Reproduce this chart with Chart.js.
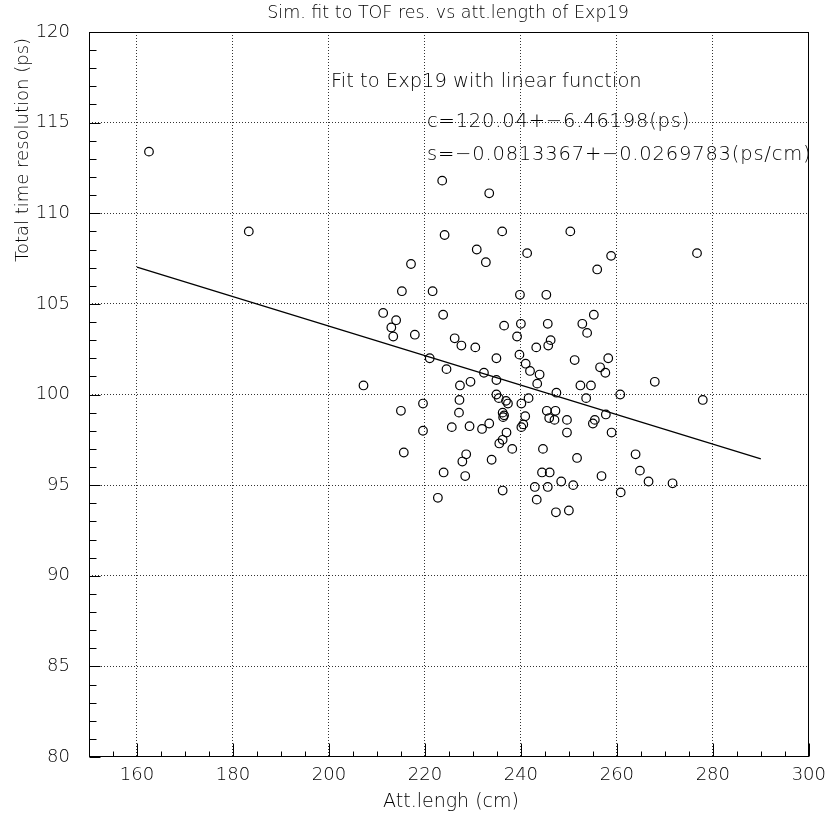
<!DOCTYPE html>
<html>
<head>
<meta charset="utf-8">
<script src="https://cdn.jsdelivr.net/npm/chart.js"></script>
<style>
  html, body { margin: 0; padding: 0; background: #fff; }
</style>
</head>
<body>
<canvas id="chart" width="834" height="817"></canvas>
<script>
// measured points (att. length in cm, time resolution in ps)
const attLength = [162.5, 183.3, 207.2,
  223.6, 233.4, 224.1, 236.1, 230.8, 232.7, 241.3, 217.1, 215.2, 221.6, 239.8, 211.3, 214.0, 213.0, 213.4, 217.9, 223.8, 236.5, 240.0, 239.2, 226.2,
  227.6, 230.5, 221.0, 224.5, 234.9, 239.7, 241.0, 241.9, 232.3, 234.9, 229.5, 227.3, 234.9, 235.4, 236.9, 237.3, 240.1, 241.6, 227.2, 219.6, 215.0,
  227.1, 236.2, 236.5, 236.3, 240.9, 240.5, 240.1, 219.6, 225.6, 229.3, 231.9, 233.4, 237.0, 236.2, 235.5, 238.2, 215.6, 228.6, 227.8, 233.9, 223.9,
  228.4, 236.2, 222.7,
  250.3, 258.8, 255.9, 276.7, 245.3, 255.2, 245.6, 252.8, 253.8, 246.2,
  245.7, 243.2, 251.2, 256.5, 258.2, 257.6, 243.9, 243.4, 247.4, 252.4, 254.6, 253.6, 260.7, 267.9, 277.9, 245.4, 247.2, 245.9, 247.0, 249.6,
  257.7, 255.4, 255.0, 249.6, 258.9, 244.6, 251.7, 263.9, 264.8, 266.6, 271.6, 256.8, 244.4, 246.0, 248.4, 250.9, 242.9, 245.6, 260.8, 243.3,
  247.3, 250.0];
const timeRes = [113.4, 109.0, 100.5,
  111.8, 111.1, 108.8, 109.0, 108.0, 107.3, 107.8, 107.2, 105.7, 105.7, 105.5, 104.5, 104.1, 103.7, 103.2, 103.3, 104.4, 103.8, 103.9, 103.2, 103.1,
  102.7, 102.6, 102.0, 101.4, 102.0, 102.2, 101.7, 101.3, 101.2, 100.8, 100.7, 100.5, 100.0, 99.8, 99.65, 99.5, 99.5, 99.8, 99.7, 99.5, 99.1,
  99.0, 99.0, 98.85, 98.75, 98.8, 98.35, 98.2, 98.0, 98.2, 98.25, 98.1, 98.4, 97.9, 97.5, 97.3, 97.0, 96.8, 96.7, 96.3, 96.4, 95.7,
  95.5, 94.7, 94.3,
  109.0, 107.65, 106.9, 107.8, 105.5, 104.4, 103.9, 103.9, 103.4, 103.0,
  102.7, 102.6, 101.9, 101.5, 102.0, 101.2, 101.1, 100.6, 100.1, 100.5, 100.5, 99.8, 100.0, 100.7, 99.7, 99.1, 99.1, 98.7, 98.6, 98.6,
  98.9, 98.6, 98.4, 97.9, 97.9, 97.0, 96.5, 96.7, 95.8, 95.2, 95.1, 95.5, 95.7, 95.7, 95.2, 95.0, 94.9, 94.9, 94.6, 94.2,
  93.5, 93.6];

// linear fit line end points
const fitX = [160, 290];
const fitY = [107.03, 96.45];

const xTickLabels = [160, 180, 200, 220, 240, 260, 280, 300];
const yTickLabels = [80, 85, 90, 95, 100, 105, 110, 115, 120];

const fitText = ['Fit to Exp19 with linear function',
                 'c=120.04+\u22126.46198(ps)',
                 's=\u22120.0813367+\u22120.0269783(ps/cm)'];

const FONT = "'DejaVu Sans', sans-serif";

const frame = {
  id: 'frame',
  afterDraw(chart) {
    const { ctx, chartArea: a, scales: { x, y } } = chart;
    ctx.save();
    ctx.strokeStyle = '#000';
    ctx.lineWidth = 1;
    const L = Math.round(a.left) + 0.5, R = Math.round(a.right) - 0.5;
    const T = Math.round(a.top) + 0.5, B = Math.round(a.bottom) - 0.5;
    ctx.strokeRect(L, T, R - L, B - T);

    // tick marks pointing into the plot
    ctx.beginPath();
    x.ticks.forEach(t => {
      const px = Math.round(x.getPixelForValue(t.value)) + 0.5;
      const len = xTickLabels.includes(t.value) ? 13 : 5;
      ctx.moveTo(px, B);
      ctx.lineTo(px, B - len);
    });
    y.ticks.forEach(t => {
      const py = Math.round(y.getPixelForValue(t.value)) + 0.5;
      const len = yTickLabels.includes(t.value) ? 11 : 7;
      ctx.moveTo(L, py);
      ctx.lineTo(L + len, py);
    });
    ctx.stroke();

    ctx.fillStyle = '#000';
    ctx.textBaseline = 'middle';
    ctx.textAlign = 'center';
    ctx.font = '200 17.5px ' + FONT;
    ctx.fillText('Sim. fit to TOF res. vs att.length of Exp19', 448, 13);

    ctx.font = '200 19px ' + FONT;
    ctx.fillText('Att.lengh (cm)', 451, 802);

    ctx.save();
    ctx.translate(23, 150);
    ctx.rotate(-Math.PI / 2);
    ctx.font = '200 18px ' + FONT;
    ctx.fillText('Total time resolution (ps)', 0, 0);
    ctx.restore();

    ctx.textAlign = 'left';
    ctx.textBaseline = 'alphabetic';
    ctx.font = '200 19.5px ' + FONT;
    ctx.fillText(fitText[0], 331, 87);
    ctx.letterSpacing = '0.8px';
    ctx.fillText(fitText[1], 427, 127);
    ctx.fillText(fitText[2], 427, 160);
    ctx.restore();
  }
};

const ctx = document.getElementById('chart').getContext('2d');
new Chart(ctx, {
  type: 'scatter',
  data: {
    datasets: [{
      label: 'Exp19',
      data: attLength.map((v, i) => ({ x: v, y: timeRes[i] })),
      pointStyle: 'circle',
      pointRadius: 4.3,
      borderWidth: 1.2,
      borderColor: '#000',
      backgroundColor: 'rgba(0,0,0,0)'
    }, {
      label: 'fit',
      data: fitX.map((v, i) => ({ x: v, y: fitY[i] })),
      showLine: true,
      pointRadius: 0,
      borderColor: '#000',
      borderWidth: 1.2
    }]
  },
  options: {
    responsive: false,
    animation: false,
    devicePixelRatio: 1,
    events: [],
    layout: { padding: { top: 32, right: 20, left: 0, bottom: 0 } },
    plugins: { legend: { display: false }, tooltip: { enabled: false } },
    scales: {
      x: {
        type: 'linear',
        min: 150, max: 300,
        afterFit: s => { s.height = 60; },
        ticks: {
          stepSize: 5,
          autoSkip: false,
          maxRotation: 0,
          padding: 8,
          color: '#000',
          font: { family: FONT, size: 18, weight: '200' },
          callback: v => xTickLabels.includes(v) ? String(v) : ''
        },
        grid: {
          drawTicks: false,
          lineWidth: 1,
          color: c => (c.tick && c.tick.value % 20 === 0 && c.tick.value > 150 && c.tick.value < 300) ? '#333' : 'rgba(0,0,0,0)'
        },
        border: { display: false, dash: [1, 2] }
      },
      y: {
        type: 'linear',
        min: 80, max: 120,
        afterFit: s => { s.width = 89; },
        ticks: {
          stepSize: 1,
          autoSkip: false,
          padding: 19,
          color: '#000',
          font: { family: FONT, size: 18, weight: '200' },
          callback: v => yTickLabels.includes(v) ? String(v) : ''
        },
        grid: {
          drawTicks: false,
          lineWidth: 1,
          color: c => (c.tick && c.tick.value % 5 === 0 && c.tick.value > 80 && c.tick.value < 120) ? '#333' : 'rgba(0,0,0,0)'
        },
        border: { display: false, dash: [1, 2] }
      }
    }
  },
  plugins: [frame]
});
</script>
</body>
</html>
